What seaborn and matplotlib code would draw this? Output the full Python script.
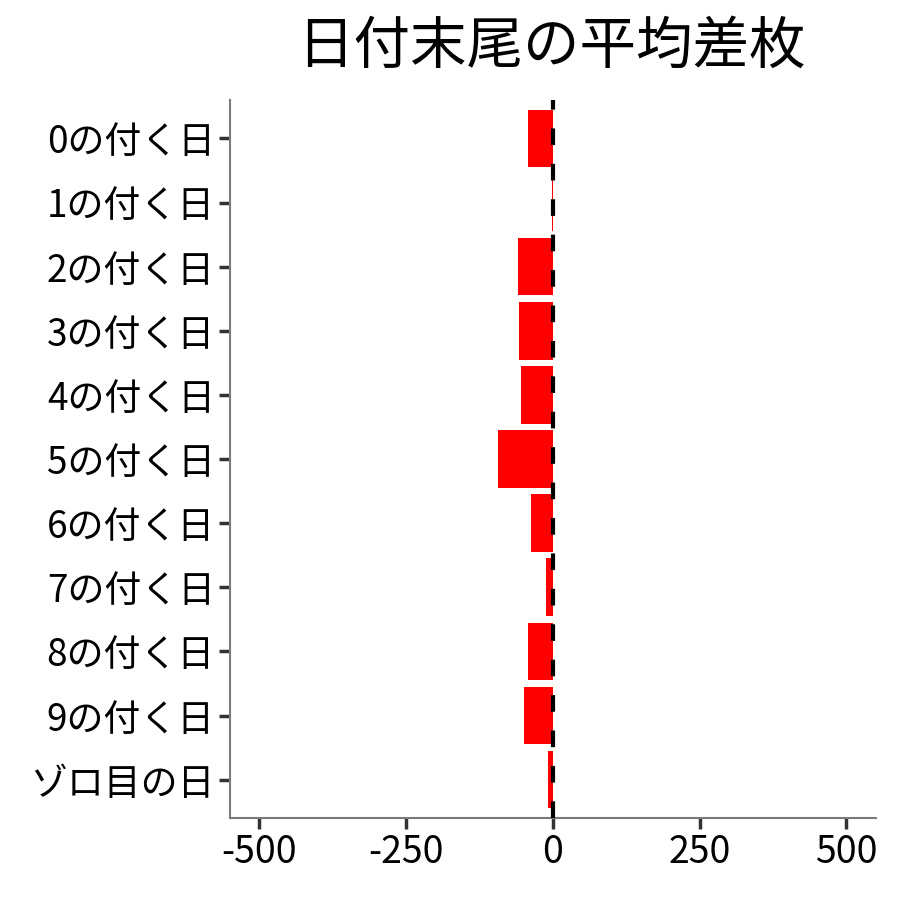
import pandas as pd
import seaborn as sns
import matplotlib.pyplot as plt

# Data
categories = ["0の付く日", "1の付く日", "2の付く日", "3の付く日", "4の付く日",
              "5の付く日", "6の付く日", "7の付く日", "8の付く日", "9の付く日", "ゾロ目の日"]
mean_diff = [-43, -1, -60, -58, -55, -94, -38, -11, -42, -50, -9]
x_ticks = [-500, -250, 0, 250, 500]

df = pd.DataFrame({"label": categories, "diff": mean_diff})

sns.set_style("white")
plt.rcParams["font.family"] = ["Noto Sans CJK JP", "DejaVu Sans"]
plt.rcParams["text.color"] = "black"

fig = plt.figure(figsize=(9, 9), dpi=100)
ax = fig.add_axes([0.2556, 0.091, 0.7174, 0.798])

sns.barplot(data=df, x="diff", y="label", order=categories, orient="h",
            color="#ff0000", saturation=1, width=0.9, edgecolor="none", ax=ax)

ax.axvline(0, color="black", linewidth=3, linestyle=(0, (4, 4.5)), zorder=5)

ax.set_xlim(-550, 550)
ax.set_ylim(len(categories) - 0.4, -0.6)
ax.set_xticks(x_ticks)
ax.set_xticklabels([str(v) for v in x_ticks])
ax.set_xlabel("")
ax.set_ylabel("")

for side in ["top", "right"]:
    ax.spines[side].set_visible(False)
for side in ["left", "bottom"]:
    ax.spines[side].set_color("#7a7a7a")
    ax.spines[side].set_linewidth(1.5)

ax.tick_params(axis="both", which="major", length=8, width=2.5, color="#333333",
               labelcolor="black", pad=3, left=True, bottom=True)
ax.tick_params(axis="x", labelsize=27)
ax.tick_params(axis="y", labelsize=26.6)

fig.suptitle("日付末尾の平均差枚", fontsize=40.7, x=0.613, y=0.981, va="top",
             color="black")

plt.savefig("out.png", dpi=100)
